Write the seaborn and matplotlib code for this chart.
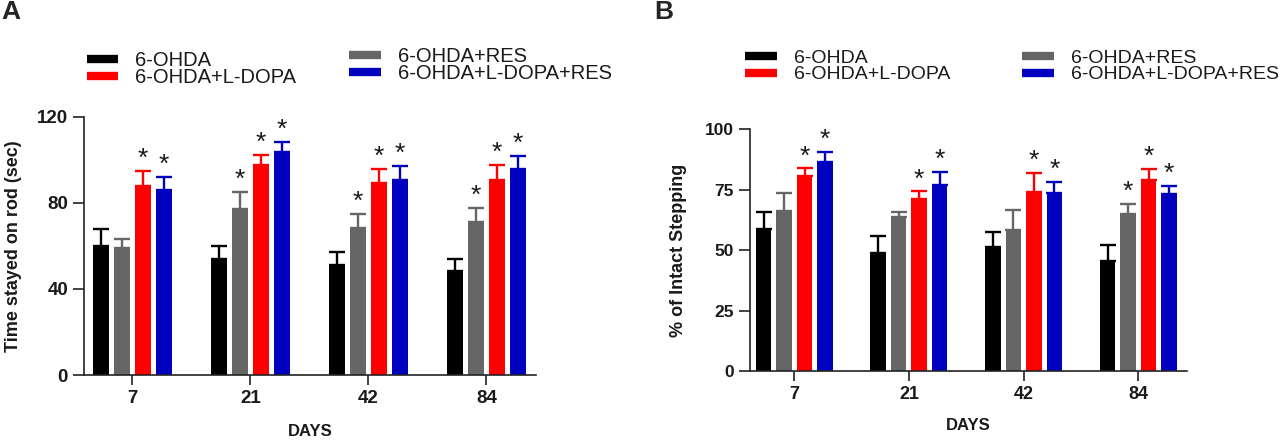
import numpy as np
import pandas as pd
import matplotlib
matplotlib.use("Agg")
import matplotlib.pyplot as plt
from matplotlib.lines import Line2D
import seaborn as sns

# ---------------- data ----------------
days = ["7", "21", "42", "84"]
groups = ["6-OHDA", "6-OHDA+RES", "6-OHDA+L-DOPA", "6-OHDA+L-DOPA+RES"]
colors = ["#000000", "#666666", "#FF0000", "#0000BF"]

# Panel A: rotarod time (sec)
a_ohda = [59.7, 54.1, 51.3, 48.5]
a_res = [58.9, 77.2, 68.4, 71.0]
a_ldopa = [87.8, 97.4, 89.2, 90.5]
a_ldopa_res = [85.8, 103.8, 90.6, 95.7]
a_sem_ohda = [8.3, 5.6, 5.9, 5.6]
a_sem_res = [4.3, 7.8, 6.6, 6.8]
a_sem_ldopa = [7.0, 5.0, 6.4, 7.1]
a_sem_ldopa_res = [6.1, 4.3, 6.7, 5.9]
a_sig_ohda = [False, False, False, False]
a_sig_res = [False, True, True, True]
a_sig_ldopa = [True, True, True, True]
a_sig_ldopa_res = [True, True, True, True]

# Panel B: % of intact stepping
b_ohda = [58.9, 48.7, 51.1, 45.7]
b_res = [66.3, 63.9, 58.5, 65.0]
b_ldopa = [80.5, 71.1, 74.0, 79.0]
b_ldopa_res = [86.6, 76.8, 73.6, 73.2]
b_sem_ohda = [6.8, 7.2, 6.5, 6.4]
b_sem_res = [7.3, 2.0, 8.2, 4.2]
b_sem_ldopa = [3.3, 3.2, 8.0, 4.5]
b_sem_ldopa_res = [4.2, 5.6, 4.7, 3.4]
b_sig_ohda = [False, False, False, False]
b_sig_res = [False, False, False, True]
b_sig_ldopa = [True, True, True, True]
b_sig_ldopa_res = [True, True, True, True]

yticks_a = [0, 40, 80, 120]
yticks_b = [0, 25, 50, 75, 100]


def make_df(vals, sems, sigs):
    rows = []
    for g, v, s, sg in zip(groups, vals, sems, sigs):
        for d, vv, ss, sgg in zip(days, v, s, sg):
            rows.append({"day": d, "group": g, "value": vv, "sem": ss, "sig": sgg})
    return pd.DataFrame(rows)


df_a = make_df([a_ohda, a_res, a_ldopa, a_ldopa_res],
               [a_sem_ohda, a_sem_res, a_sem_ldopa, a_sem_ldopa_res],
               [a_sig_ohda, a_sig_res, a_sig_ldopa, a_sig_ldopa_res])
df_b = make_df([b_ohda, b_res, b_ldopa, b_ldopa_res],
               [b_sem_ohda, b_sem_res, b_sem_ldopa, b_sem_ldopa_res],
               [b_sig_ohda, b_sig_res, b_sig_ldopa, b_sig_ldopa_res])

# ---------------- style ----------------
sns.set_style("ticks")
plt.rcParams["font.family"] = ["Liberation Sans", "DejaVu Sans"]

W, H = 1286, 442
fig = plt.figure(figsize=(W / 100, H / 100), dpi=100)


def px_axes(l, r, b, t):
    return fig.add_axes([l / W, 1 - b / H, (r - l) / W, (b - t) / H])


ax_a = px_axes(84, 536, 375, 116.7)
ax_b = px_axes(750, 1187, 371, 129.3)


def draw_panel(ax, df, ymax, yticks, xlim, ylabel, xlab_y, ylab_x, tfs_y, tfs_x):
    sns.barplot(data=df, x="day", y="value", hue="group", order=days,
                hue_order=groups, palette=colors, saturation=1, width=0.715,
                gap=0.24, errorbar=None, linewidth=0, legend=False, ax=ax,
                zorder=2)
    for cont, g, c in zip(ax.containers, groups, colors):
        sub = df[df["group"] == g].set_index("day").loc[days]
        xs = [p.get_x() + p.get_width() / 2 for p in cont.patches]
        tops = [p.get_height() for p in cont.patches]
        sems = sub["sem"].values
        ax.errorbar(xs, tops, yerr=[np.zeros(len(sems)), sems], fmt="none",
                    ecolor=c, elinewidth=1.7, capthick=1.7, capsize=6,
                    zorder=1)
        for x, t, s, sg in zip(xs, tops, sems, sub["sig"].values):
            if sg:
                ax.annotate("*", xy=(x, t + s), xytext=(0, 0),
                            textcoords="offset points", ha="center",
                            va="bottom", fontsize=19, color="#1a1a1a",
                            annotation_clip=False)
    ax.set_xlim(*xlim)
    ax.set_ylim(0, ymax)
    ax.set_yticks(yticks)
    sns.despine(ax=ax)
    for sp in ["left", "bottom"]:
        ax.spines[sp].set_linewidth(1.2)
        ax.spines[sp].set_color("#222222")
    ax.tick_params(axis="y", length=8, width=1.2, color="#222222",
                   labelsize=tfs_y, pad=3.5)
    ax.tick_params(axis="x", length=7, width=1.2, color="#222222",
                   labelsize=tfs_x, pad=3.5)
    for lab in ax.get_xticklabels() + ax.get_yticklabels():
        lab.set_fontweight("bold")
        lab.set_color("#1a1a1a")
    ax.set_xlabel("DAYS", fontsize=12, fontweight="bold", color="#1a1a1a")
    ax.xaxis.set_label_coords(0.5, xlab_y)
    ax.xaxis.label.set_va("center")
    ax.set_ylabel(ylabel, fontsize=13, fontweight="bold", color="#1a1a1a")
    ax.yaxis.set_label_coords(ylab_x, 0.5)
    ax.yaxis.label.set_va("center")


draw_panel(ax_a, df_a, 120, yticks_a, (-0.41, 3.42), "Time stayed on rod (sec)",
           (375 - 432) / 258.3, -0.155, 13.5, 13.5)
draw_panel(ax_b, df_b, 100, yticks_b, (-0.386, 3.425), "% of Intact Stepping",
           (371 - 426) / 241.7, -0.1625, 12.5, 13)


def add_legend(x_px, y_px, idx, fs):
    handles = [Line2D([0], [0], color=colors[i], lw=6, solid_capstyle="butt")
               for i in idx]
    labels = [groups[i] for i in idx]
    fs_px = fs * 100 / 72
    leg = fig.legend(handles, labels, loc="center left",
                     bbox_to_anchor=(x_px / W, 1 - y_px / H),
                     frameon=False, fontsize=fs, handlelength=31.5 / fs_px,
                     handletextpad=17 / fs_px, labelspacing=-0.08, borderpad=0,
                     borderaxespad=0)
    for t in leg.get_texts():
        t.set_color("#1a1a1a")
    return leg


add_legend(86.7, 68.9, [0, 2], 14.5)
add_legend(349.3, 65.3, [1, 3], 14.5)
add_legend(745.4, 66.5, [0, 2], 14)
add_legend(1022, 66.5, [1, 3], 14)

fig.text(1 / W, 1 - 0 / H, "A", fontsize=19, fontweight="bold", va="top", ha="left")
fig.text(654 / W, 1 - 0 / H, "B", fontsize=19, fontweight="bold", va="top", ha="left")

fig.savefig("out.png", dpi=100)
